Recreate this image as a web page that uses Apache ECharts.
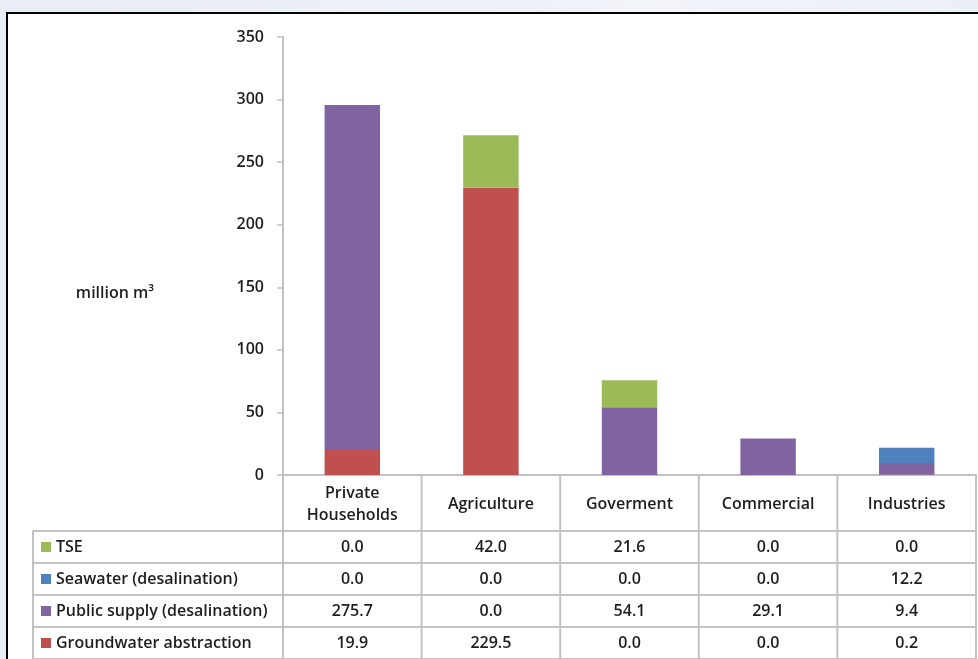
<!DOCTYPE html>
<html>
<head>
<meta charset="utf-8">
<script src="https://cdn.jsdelivr.net/npm/echarts@6/dist/echarts.min.js"></script>
<style>
  html, body { margin: 0; padding: 0; background: #edf0f7; }
  #wrap { position: relative; width: 978px; height: 659px; overflow: hidden;
          background: linear-gradient(90deg, #e9edf6 0%, #eef1f8 55%, #f2f4fa 65%, #ebeff7 100%); }
  #frame { position: absolute; left: 6px; top: 12px; width: 1000px; height: 700px;
           background: #fff; border-left: 2px solid #000; border-top: 2px solid #000; }
  #chart { position: absolute; left: 0; top: 0; width: 978px; height: 659px; }
</style>
</head>
<body>
<div id="wrap">
  <div id="frame"></div>
  <div id="chart"></div>
</div>
<script>
// Water use by sector, million m3
const categories = ['Private\nHouseholds', 'Agriculture', 'Goverment', 'Commercial', 'Industries'];
const groundwater = [19.9, 229.5, 0.0, 0.0, 0.2];
const publicSupply = [275.7, 0.0, 54.1, 29.1, 9.4];
const seawater = [0.0, 0.0, 0.0, 0.0, 12.2];
const tse = [0.0, 42.0, 21.6, 0.0, 0.0];

const seriesNames = ['Groundwater abstraction', 'Public supply (desalination)', 'Seawater (desalination)', 'TSE'];
const seriesColors = ['#c0504d', '#8064a2', '#4f81bd', '#9bbb59'];
const seriesValues = [groundwater, publicSupply, seawater, tse];

const yMin = 0, yMax = 350, yStep = 50;
const unitLabel = 'million m³';

const FONT = 'Open Sans';
const FONT_SIZE = 16;
const FONT_WEIGHT = 600;
const CSS_FONT = FONT_WEIGHT + ' ' + FONT_SIZE + 'px "' + FONT + '"';
const GRID_COLOR = '#c2c2c2';
const TEXT_COLOR = '#1e1e1e';

const chart = echarts.init(document.getElementById('chart'), null, { renderer: 'canvas' });

const grid = { left: 283, right: 2, top: 37, bottom: 184 };

chart.setOption({
  backgroundColor: 'transparent',
  animation: false,
  grid: grid,
  xAxis: {
    type: 'category',
    data: categories,
    axisLine: { show: true, lineStyle: { color: GRID_COLOR, width: 2 } },
    axisTick: { show: false },
    axisLabel: { show: false },
    splitLine: { show: false }
  },
  yAxis: {
    type: 'value',
    min: yMin, max: yMax, interval: yStep,
    axisLine: { show: true, lineStyle: { color: GRID_COLOR, width: 2 } },
    axisTick: { show: true, length: 6, lineStyle: { color: GRID_COLOR, width: 1.5 } },
    axisLabel: { margin: 19, fontFamily: FONT, fontSize: FONT_SIZE, fontWeight: FONT_WEIGHT, color: TEXT_COLOR },
    splitLine: { show: false }
  },
  series: seriesNames.map((name, i) => ({
    name: name,
    type: 'bar',
    stack: 'total',
    barWidth: '40%',
    data: seriesValues[i],
    itemStyle: { color: seriesColors[i] }
  }))
});

// Data table under the plot: header row with the sectors, then one row per source
function buildTable() {
  const xs = categories.map((c, i) => chart.convertToPixel({ xAxisIndex: 0 }, i));
  const band = xs[1] - xs[0];
  const y0 = chart.convertToPixel({ yAxisIndex: 0 }, yMin);
  const left = xs[0] - band / 2;
  const right = xs[xs.length - 1] + band / 2;
  const headerH = 56;
  const rowH = 32;
  const legendLeft = 33;
  const rowsTop = y0 + headerH;
  const rowOrder = [3, 2, 1, 0]; // TSE, Seawater, Public supply, Groundwater
  const bottom = rowsTop + rowH * rowOrder.length;
  const line = (x1, y1, x2, y2) => ({
    type: 'line', silent: true,
    shape: { x1: x1, y1: y1, x2: x2, y2: y2 },
    style: { stroke: GRID_COLOR, lineWidth: 2 }
  });
  const els = [];
  // vertical separators of the sector columns
  for (let i = 0; i <= xs.length; i++) {
    const x = left + band * i;
    els.push(line(x, y0, x, bottom));
  }
  // legend column
  els.push(line(legendLeft, rowsTop, legendLeft, bottom));
  for (let r = 0; r <= rowOrder.length; r++) {
    const y = rowsTop + rowH * r;
    els.push(line(legendLeft, y, right, y));
  }
  // header labels
  categories.forEach((c, i) => {
    els.push({
      type: 'text', silent: true,
      style: {
        text: c, x: xs[i], y: y0 + headerH / 2 + 1,
        align: 'center', verticalAlign: 'middle',
        font: CSS_FONT, lineHeight: 22, fill: TEXT_COLOR
      }
    });
  });
  // rows
  rowOrder.forEach((s, r) => {
    const cy = rowsTop + rowH * r + rowH / 2;
    els.push({
      type: 'rect', silent: true,
      shape: { x: legendLeft + 8, y: cy - 5, width: 10, height: 10 },
      style: { fill: seriesColors[s] }
    });
    els.push({
      type: 'text', silent: true,
      style: {
        text: seriesNames[s], x: legendLeft + 23, y: cy,
        align: 'left', verticalAlign: 'middle',
        font: CSS_FONT, fill: TEXT_COLOR
      }
    });
    seriesValues[s].forEach((v, i) => {
      els.push({
        type: 'text', silent: true,
        style: {
          text: v.toFixed(1), x: xs[i], y: cy,
          align: 'center', verticalAlign: 'middle',
          font: CSS_FONT, fill: TEXT_COLOR
        }
      });
    });
  });
  // axis unit
  els.push({
    type: 'text', silent: true,
    style: {
      text: unitLabel, x: 115, y: 293,
      align: 'center', verticalAlign: 'middle',
      font: CSS_FONT, fill: TEXT_COLOR
    }
  });
  chart.setOption({ graphic: { elements: els } });
}
buildTable();
</script>
</body>
</html>
